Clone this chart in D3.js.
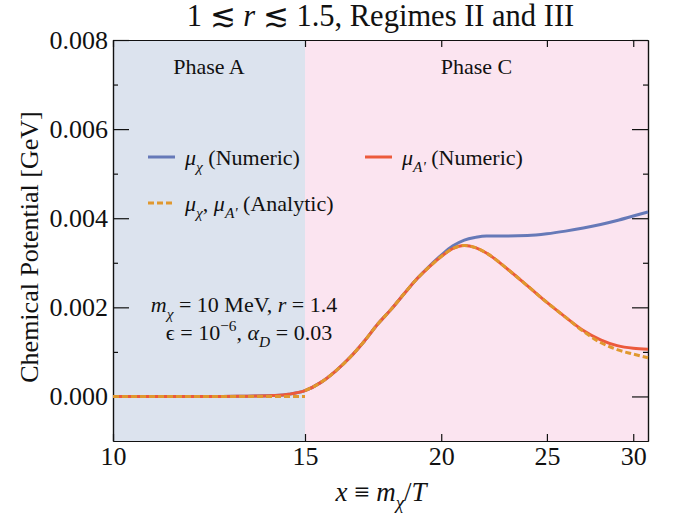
<html>
  <head>
    <style>
      body { margin: 0; background: #fff; }
      text { font-family: "Liberation Serif", "DejaVu Serif", serif; fill: #111; }
    </style>
  </head>
  <body>
    <div id="chart"></div>
    <script src="https://d3js.org/d3.v7.min.js"></script>
    <script>
      // values
      var xNum = [10, 11, 12, 13, 13.5, 14, 14.5, 15, 15.5, 16, 16.5, 17, 17.5, 18, 18.5, 19, 19.5, 20, 20.5, 21, 21.5, 22, 23, 24, 25, 26, 27, 28, 29, 30, 30.95];
      var muChiNum = [0, 0, 0, 0.000003, 0.000008, 0.00002, 0.00005, 0.00013, 0.00031, 0.00057, 0.00088, 0.00124, 0.00163, 0.00196, 0.00231, 0.00264, 0.00292, 0.00317, 0.00338, 0.00351, 0.00357, 0.00360, 0.00360, 0.00361, 0.00365, 0.00371, 0.00378, 0.00386, 0.00395, 0.00405, 0.00414];
      var muApNum = [0, 0, 0, 0.000003, 0.000008, 0.00002, 0.00005, 0.00013, 0.00031, 0.00057, 0.00088, 0.00124, 0.00163, 0.00196, 0.00231, 0.00264, 0.00291, 0.00314, 0.00332, 0.00339, 0.00334, 0.00322, 0.00286, 0.00248, 0.00211, 0.00178, 0.00148, 0.00127, 0.00114, 0.00108, 0.00106];
      var xAnaA = [10, 15];
      var anaA = [0, 0];
      var xAnaC = [15, 15.5, 16, 16.5, 17, 17.5, 18, 18.5, 19, 19.5, 20, 20.5, 21, 21.5, 22, 23, 24, 25, 26, 27, 28, 29, 30, 30.95];
      var anaC = [0.00013, 0.00031, 0.00057, 0.00088, 0.00124, 0.00163, 0.00196, 0.00231, 0.00264, 0.00291, 0.00314, 0.00332, 0.00339, 0.00334, 0.00322, 0.00286, 0.00248, 0.00211, 0.00178, 0.00146, 0.00121, 0.00105, 0.00095, 0.00087];

      var xTicks = [10, 15, 20, 25, 30];
      var yTicks = [0, 0.002, 0.004, 0.006, 0.008];
      var yMinor = [0.001, 0.003, 0.005, 0.007];
      var phases = [{name: "Phase A", x0: 10, x1: 15, fill: "#dce3ee"}, {name: "Phase C", x0: 15, x1: 30.95, fill: "#fbe4f0"}];

      var W = 683, H = 515;
      var m = {left: 113, right: 648, top: 40, bottom: 441};

      var svg = d3.select("#chart").append("svg")
        .attr("width", W).attr("height", H);

      var x = d3.scaleLog().domain([10, 30.95]).range([m.left, m.right]);
      var y = d3.scaleLinear().domain([-0.001, 0.008]).range([m.bottom, m.top]);

      // phase backgrounds
      svg.selectAll("rect.phase").data(phases).enter().append("rect")
        .attr("class", "phase")
        .attr("x", d => x(d.x0)).attr("width", d => x(d.x1) - x(d.x0))
        .attr("y", m.top).attr("height", m.bottom - m.top)
        .attr("fill", d => d.fill);

      svg.selectAll("text.phase").data(phases).enter().append("text")
        .attr("x", d => (x(d.x0) + x(d.x1)) / 2).attr("y", 74)
        .attr("text-anchor", "middle").style("font-size", "22px")
        .text(d => d.name);

      // rich text helper: parts = [text, italic?, "sub"/"sup"?]
      function rich(sel, parts, size) {
        sel.style("font-size", size + "px");
        var shift = 0;
        parts.forEach(function(p) {
          var ts = sel.append("tspan").text(p[0]);
          if (p[1]) ts.style("font-style", "italic");
          var want = p[2] === "sub" ? size * 0.3 : p[2] === "sup" ? -size * 0.4 : 0;
          if (want !== shift) { ts.attr("dy", want - shift); shift = want; }
          if (p[2]) ts.style("font-size", (size * 0.7) + "px");
        });
        return sel;
      }

      // frame + ticks
      var g = svg.append("g");
      g.append("g").attr("transform", "translate(" + m.left + ",0)")
        .call(d3.axisLeft(y).tickValues(yTicks).tickFormat(d3.format(".3f")).tickSize(-16).tickSizeOuter(0).tickPadding(5))
        .call(a => a.selectAll("text").style("font-size", "26px").attr("font-family", null));
      g.append("g").attr("transform", "translate(" + m.left + ",0)")
        .call(d3.axisLeft(y).tickValues(yMinor).tickFormat("").tickSize(-5).tickSizeOuter(0));
      g.append("g").attr("transform", "translate(" + m.right + ",0)")
        .call(d3.axisRight(y).tickValues(yTicks).tickFormat("").tickSize(-16).tickSizeOuter(0));
      g.append("g").attr("transform", "translate(" + m.right + ",0)")
        .call(d3.axisRight(y).tickValues(yMinor).tickFormat("").tickSize(-5).tickSizeOuter(0));
      g.append("g").attr("transform", "translate(0," + m.bottom + ")")
        .call(d3.axisBottom(x).tickValues(xTicks).tickFormat(d3.format("d")).tickSize(-7).tickSizeOuter(0).tickPadding(5))
        .call(a => a.selectAll("text").style("font-size", "26px").attr("font-family", null).attr("dy", "0.72em"));
      g.append("g").attr("transform", "translate(0," + m.top + ")")
        .call(d3.axisTop(x).tickValues(xTicks).tickFormat("").tickSize(-7).tickSizeOuter(0));
      g.selectAll(".domain").attr("stroke", "#111").attr("stroke-width", 1.2);
      g.selectAll(".tick line").attr("stroke", "#111").attr("stroke-width", 1.2);

      // curves
      var line = d3.line().x(d => x(d[0])).y(d => y(d[1])).curve(d3.curveMonotoneX);
      var blue = "#6679b8", red = "#ec5a3c", orange = "#e0982e";
      svg.append("path").attr("d", line(d3.zip(xNum, muChiNum)))
        .attr("fill", "none").attr("stroke", blue).attr("stroke-width", 3);
      svg.append("path").attr("d", line(d3.zip(xNum, muApNum)))
        .attr("fill", "none").attr("stroke", red).attr("stroke-width", 3);
      [d3.zip(xAnaA, anaA), d3.zip(xAnaC, anaC)].forEach(function(seg) {
        svg.append("path").attr("d", line(seg))
          .attr("fill", "none").attr("stroke", orange).attr("stroke-width", 3)
          .attr("stroke-dasharray", "6,3");
      });

      // legend
      var legend = [
        {col: blue, dash: null, x: 148, y: 157, parts: [["μ", true], ["χ", true, "sub"], [" (Numeric)", false]]},
        {col: red, dash: null, x: 365, y: 157, parts: [["μ", true], ["A'", true, "sub"], [" (Numeric)", false]]},
        {col: orange, dash: "6,3", x: 148, y: 203, parts: [["μ", true], ["χ", true, "sub"], [", ", false], ["μ", true], ["A'", true, "sub"], [" (Analytic)", false]]}
      ];
      legend.forEach(function(l) {
        svg.append("line").attr("x1", l.x).attr("x2", l.x + 27).attr("y1", l.y).attr("y2", l.y)
          .attr("stroke", l.col).attr("stroke-width", 3).attr("stroke-dasharray", l.dash);
        rich(svg.append("text").attr("x", l.x + 37).attr("y", l.y + 8), l.parts, 22);
      });

      // annotation
      rich(svg.append("text").attr("x", 244).attr("y", 312).attr("text-anchor", "middle"),
        [["m", true], ["χ", true, "sub"], [" = 10 MeV, ", false], ["r", true], [" = 1.4", false]], 22);
      rich(svg.append("text").attr("x", 249).attr("y", 340).attr("text-anchor", "middle"),
        [["ϵ = 10", false], ["−6", false, "sup"], [", ", false], ["α", true], ["D", true, "sub"], [" = 0.03", false]], 22);

      // title and axis labels
      rich(svg.append("text").attr("x", (m.left + m.right) / 2).attr("y", 26).attr("text-anchor", "middle"),
        [["1 ≲ ", false], ["r", true], [" ≲ 1.5, Regimes II and III", false]], 30.5);
      rich(svg.append("text").attr("x", 381).attr("y", 501).attr("text-anchor", "middle"),
        [["x", true], [" ≡ ", false], ["m", true], ["χ", true, "sub"], ["/", false], ["T", true]], 27);
      svg.append("text").attr("transform", "translate(38,247) rotate(-90)")
        .attr("text-anchor", "middle").style("font-size", "26px")
        .text("Chemical Potential [GeV]");
    </script>
  </body>
</html>
